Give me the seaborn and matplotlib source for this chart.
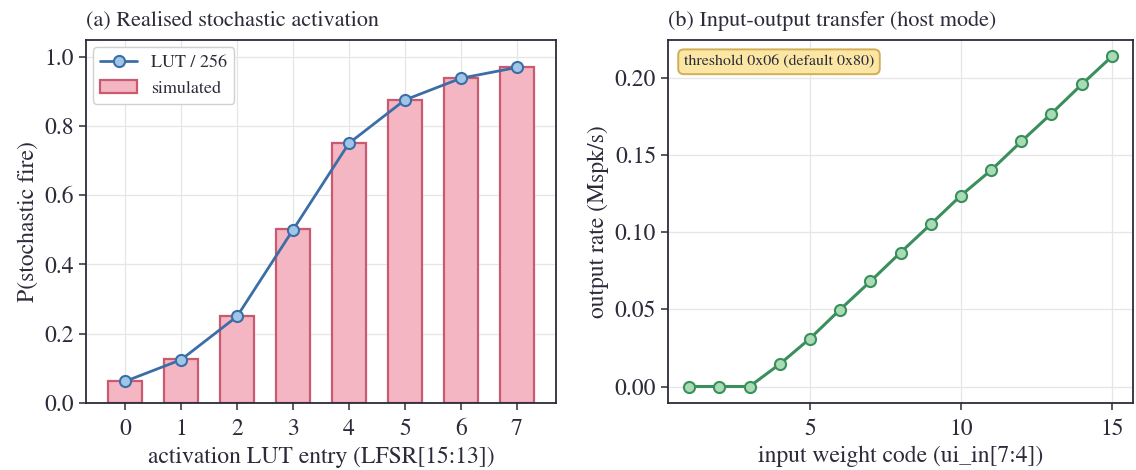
import numpy as np
import pandas as pd
import seaborn as sns
import matplotlib
matplotlib.use("Agg")
import matplotlib.pyplot as plt

# ---- data ----
lut_entries = [0, 1, 2, 3, 4, 5, 6, 7]
lut_over_256 = [16/256, 32/256, 64/256, 128/256, 192/256, 224/256, 240/256, 248/256]
simulated = [0.063, 0.126, 0.251, 0.501, 0.751, 0.876, 0.938, 0.969]

weight_codes = [1, 2, 3, 4, 5, 6, 7, 8, 9, 10, 11, 12, 13, 14, 15]
output_rate = [0.0, 0.0, 0.0, 0.0145, 0.031, 0.0498, 0.068, 0.0867, 0.105,
               0.1236, 0.140, 0.1586, 0.1767, 0.1955, 0.2136]

sns.set_theme(style="whitegrid")
plt.rcParams.update({
    "font.family": ["STIXGeneral", "DejaVu Serif"],
    "mathtext.fontset": "stix",
    "axes.edgecolor": "#2b2b3a",
    "axes.linewidth": 1.3,
    "grid.color": "#e6e6e6",
    "grid.linewidth": 0.9,
    "xtick.bottom": True,
    "ytick.left": True,
    "xtick.color": "#2b2b3a",
    "ytick.color": "#2b2b3a",
    "xtick.major.size": 5,
    "ytick.major.size": 5,
    "xtick.major.width": 1.1,
    "ytick.major.width": 1.1,
    "xtick.major.pad": 6.5,
    "xtick.labelsize": 17,
    "ytick.labelsize": 17,
    "axes.labelsize": 17,
    "axes.titlesize": 16,
    "text.color": "#2b2b3a",
    "axes.labelcolor": "#2b2b3a",
})

W, H = 1136, 470
fig, (ax1, ax2) = plt.subplots(1, 2, figsize=(W / 100, H / 100), dpi=100)
ax1.set_position([86 / W, 1 - 403 / H, (556 - 86) / W, (403 - 40) / H])
ax2.set_position([668 / W, 1 - 403 / H, (1133 - 668) / W, (403 - 40) / H])

df1 = pd.DataFrame({"entry": lut_entries, "sim": simulated, "lut": lut_over_256})

ax1.bar(df1["entry"], df1["sim"], width=0.6, color="#f4b6c2", edgecolor="#c95a70",
        linewidth=1.6, label="simulated", zorder=2)
sns.lineplot(data=df1, x="entry", y="lut", ax=ax1, color="#3c6ea6", linewidth=2,
             marker="o", markersize=8, markerfacecolor="#9fc5e8",
             markeredgecolor="#3c6ea6", markeredgewidth=1.5, label="LUT / 256", zorder=3)
ax1.set_xlim(-0.7, 7.7)
ax1.set_ylim(0, 1.048)
ax1.set_xticks(lut_entries)
ax1.set_xlabel("activation LUT entry (LFSR[15:13])")
ax1.set_ylabel("P(stochastic fire)")
ax1.set_title("(a) Realised stochastic activation", loc="left", pad=10)
h, l = ax1.get_legend_handles_labels()
order = [l.index("LUT / 256"), l.index("simulated")]
ax1.legend([h[i] for i in order], [l[i] for i in order], loc="upper left",
           fontsize=13, frameon=True, edgecolor="#d0d0d0", framealpha=1,
           borderaxespad=0.4)

df2 = pd.DataFrame({"code": weight_codes, "rate": output_rate})
sns.lineplot(data=df2, x="code", y="rate", ax=ax2, color="#3a8f5c", linewidth=2.2,
             marker="o", markersize=8, markerfacecolor="#a8dcb5",
             markeredgecolor="#3a8f5c", markeredgewidth=1.5)
ax2.set_xticks([5, 10, 15])
ax2.set_xlabel("input weight code (ui_in[7:4])")
ax2.set_ylabel("output rate (Mspk/s)")
ax2.set_title("(b) Input-output transfer (host mode)", loc="left", pad=10)
ax2.text(0.034, 0.94, "threshold 0x06 (default 0x80)", transform=ax2.transAxes,
         fontsize=11.5, va="center", ha="left",
         bbox=dict(boxstyle="round,pad=0.35", facecolor="#fbe6a3", edgecolor="#d2ae55", linewidth=1.4))

for ax in (ax1, ax2):
    for s in ax.spines.values():
        s.set_visible(True)

fig.savefig("out.png", dpi=100)
